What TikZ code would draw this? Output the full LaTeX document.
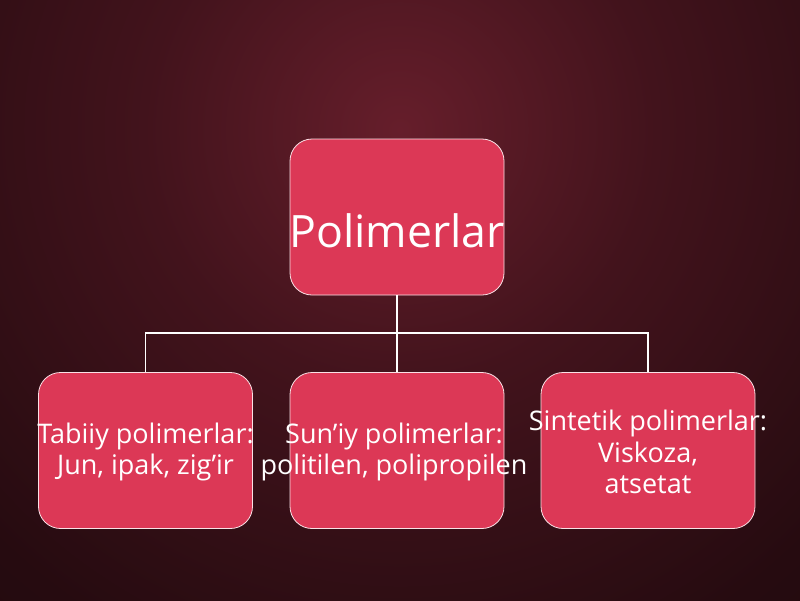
\documentclass[tikz,border=0pt]{standalone}
\usepackage{fontspec}
\setmainfont{Open Sans}
\definecolor{bgin}{RGB}{102,30,43}
\definecolor{bgmid}{RGB}{66,19,28}
\definecolor{bgmid2}{RGB}{38,11,16}
\definecolor{bgout}{RGB}{24,6,10}
\definecolor{bgfar}{RGB}{18,4,7}
\definecolor{boxfill}{RGB}{220,56,86}
\pgfdeclareradialshading{bgshade}{\pgfpoint{0bp}{0bp}}{color(0bp)=(bgin); color(8bp)=(bgmid); color(18bp)=(bgmid2); color(30bp)=(bgout); color(50bp)=(bgfar)}
\tikzset{
  box/.style={draw=white!85!boxfill, line width=0.8pt, fill=boxfill, rounded corners=22pt, minimum width=214pt, minimum height=156pt, inner sep=0pt},
  txt/.style={text=white, align=center, inner sep=0pt},
  conn/.style={draw=white, line width=1.6pt}
}
\begin{document}
\begin{tikzpicture}[x=1pt,y=-1pt]
\useasboundingbox (0,0) rectangle (800,600);
\begin{scope}
\clip (0,0) rectangle (800,600);
\shade[shading=bgshade] (-400,-670) rectangle (1200,930);
\end{scope}
\node[box] (top) at (397,217) {};
\node[box] (b1) at (145.5,450.5) {};
\node[box] (b2) at (397,450.5) {};
\node[box] (b3) at (648,450.5) {};
\coordinate (j) at (397,333);
\draw[conn] (top.south) -- (j);
\draw[conn] (j) -| (b1.north);
\draw[conn] (j) -| (b3.north);
\draw[conn] (j) -- (b2.north);
\node[txt, font=\fontsize{44.6}{52}\selectfont] (t0) at (397,231) {Polimerlar};
\node[txt, font=\fontsize{27}{31.5}\selectfont] (t1) at (145.5,452) {Tabiiy polimerlar:\\Jun, ipak, zig’ir};
\node[txt, font=\fontsize{27}{31.5}\selectfont] (t2) at (394,452) {Sun’iy polimerlar:\\politilen, polipropilen};
\node[txt, font=\fontsize{27}{31.5}\selectfont] (t3) at (648,452) {Sintetik polimerlar:\\Viskoza,\\atsetat};
\end{tikzpicture}
\end{document}
